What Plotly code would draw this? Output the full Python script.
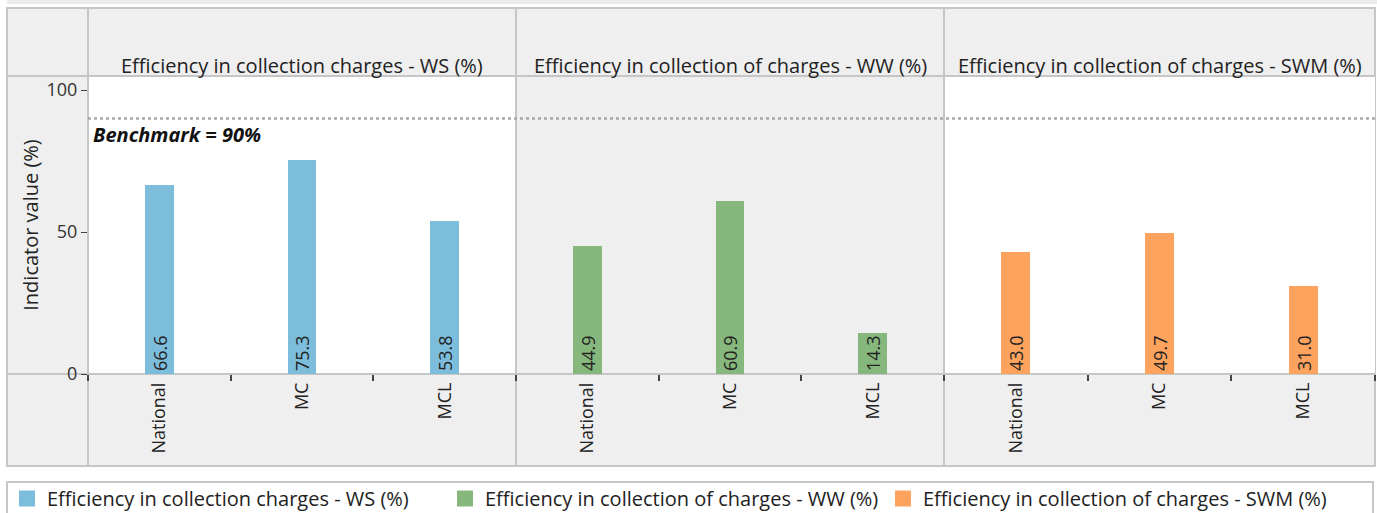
import plotly.graph_objects as go

categories = ["National", "MC", "MCL"]
panel_titles = [
    "Efficiency in collection charges - WS (%)",
    "Efficiency in collection of charges - WW (%)",
    "Efficiency in collection of charges - SWM (%)",
]
ws_values = [66.6, 75.3, 53.8]
ww_values = [44.9, 60.9, 14.3]
swm_values = [43.0, 49.7, 31.0]
series = [ws_values, ww_values, swm_values]
colors = ["#7dbddc", "#86b77c", "#fda35e"]
benchmark = 90
benchmark_label = "Benchmark = 90%"
y_ticks = [0, 50, 100]
y_title = "Indicator value (%)"

W, H = 1377, 513
L, R, T, B = 88, 1375, 76, 374
FONT = "Segoe UI, Open Sans, sans-serif"
GRAY = "#efefef"
LINE = "#c6c6c6"


def px(x):
    return (x - L) / (R - L)


def py(y):
    return (B - y) / (B - T)


edges = [88, 516, 944, 1375]
domains = [[px(edges[i]), px(edges[i + 1])] for i in range(3)]
legend_x = [7, 445, 883]

fig = go.Figure()

for i in range(3):
    ax = "" if i == 0 else str(i + 1)
    fig.add_trace(go.Bar(
        x=categories, y=series[i], width=0.2,
        marker=dict(color=colors[i], line=dict(width=0)),
        text=[f"{v:.1f}" for v in series[i]],
        textposition="inside", insidetextanchor="start", textangle=-90,
        textfont=dict(size=18, color="#222222", family=FONT),
        xaxis="x" + ax, yaxis="y" + ax, showlegend=False, hoverinfo="x+y",
    ))
    fig.add_trace(go.Scatter(
        x=[None], y=[None], mode="markers", name=panel_titles[i],
        marker=dict(symbol="square", size=16, color=colors[i]),
        xaxis="x" + ax, yaxis="y" + ax, showlegend=True,
        legend="legend" if i == 0 else f"legend{i + 1}",
    ))

layout = dict(
    width=W, height=H,
    margin=dict(l=L, r=W - R, t=T, b=H - B, pad=0, autoexpand=False),
    paper_bgcolor="white", plot_bgcolor="rgba(0,0,0,0)",
    font=dict(family=FONT, size=20, color="#222222"),
    bargap=0,
    uniformtext=dict(minsize=18, mode="show"),
    showlegend=True,
)
for i in range(3):
    key = "legend" if i == 0 else f"legend{i + 1}"
    layout[key] = dict(orientation="h", x=px(legend_x[i]), y=py(479), xanchor="left", yanchor="top",
                       bgcolor="rgba(0,0,0,0)", borderwidth=0,
                       font=dict(size=20, color="#222222", family=FONT), itemclick=False)
for i in range(3):
    ax = "" if i == 0 else str(i + 1)
    layout["xaxis" + ax] = dict(
        domain=domains[i], anchor="y" + ax, type="category",
        categoryorder="array", categoryarray=categories,
        range=[-0.5, 2.5], showgrid=False, zeroline=False, showline=False,
        ticks="outside", tickson="boundaries", ticklen=6, tickwidth=2, tickcolor="#444444",
        tickangle=-90, tickfont=dict(size=18, color="#222222"), ticklabelstandoff=4,
    )
    layout["yaxis" + ax] = dict(
        anchor="x" + ax, range=[0, (B - T) / (B - 90) * 100],
        showgrid=False, zeroline=False, showline=False,
        tickvals=y_ticks, ticks="outside" if i == 0 else "",
        ticklen=6, tickcolor="#444444", showticklabels=(i == 0),
        tickfont=dict(size=18, color="#333333"),
    )
layout["yaxis"]["title"] = dict(text=y_title, font=dict(size=20, color="#222222"), standoff=2)
fig.update_layout(**layout)

shapes = []
shapes.append(dict(type="rect", xref="paper", yref="paper", x0=px(7), x1=px(W), y0=py(0), y1=py(4),
                   fillcolor="#ececec", line=dict(width=0), layer="below"))
shapes.append(dict(type="rect", xref="paper", yref="paper", x0=px(7), x1=px(1375), y0=py(466), y1=py(8),
                   fillcolor=GRAY, line=dict(color=LINE, width=2), layer="below"))
for i, col in enumerate(["white", GRAY, "white"]):
    shapes.append(dict(type="rect", xref="paper", yref="paper", x0=px(edges[i]), x1=px(edges[i + 1]),
                       y0=0, y1=1, fillcolor=col, line=dict(width=0), layer="below"))
for e in edges[:3]:
    shapes.append(dict(type="line", xref="paper", yref="paper", x0=px(e), x1=px(e), y0=py(466), y1=py(8),
                       line=dict(color=LINE, width=2), layer="below"))
for yy in [T, B]:
    shapes.append(dict(type="line", xref="paper", yref="paper", x0=px(7), x1=px(1375), y0=py(yy), y1=py(yy),
                       line=dict(color=LINE, width=2), layer="below"))
shapes.append(dict(type="rect", xref="paper", yref="paper", x0=px(7), x1=px(1373), y0=py(520), y1=py(482),
                   fillcolor="white", line=dict(color=LINE, width=2), layer="below"))
shapes.append(dict(type="line", xref="paper", yref="y", x0=0, x1=1, y0=benchmark, y1=benchmark,
                   line=dict(color="#a8a8a8", width=2.5, dash="dot"), layer="above"))
fig.update_layout(shapes=shapes)

annotations = []
for i in range(3):
    annotations.append(dict(text=panel_titles[i], xref="paper", yref="paper",
                            x=(domains[i][0] + domains[i][1]) / 2, y=py(65),
                            xanchor="center", yanchor="middle", showarrow=False,
                            font=dict(size=20, color="#222222")))
annotations.append(dict(text=f"<b><i>{benchmark_label}</i></b>", xref="paper", yref="y",
                        x=px(91), y=benchmark, xanchor="left", yanchor="top", yshift=-1,
                        showarrow=False, font=dict(size=20, color="#111111")))
fig.update_layout(annotations=annotations)

fig.write_html("out.html", config={"displayModeBar": False},
               post_script="document.body.style.margin='0px';document.body.style.overflow='hidden';")
